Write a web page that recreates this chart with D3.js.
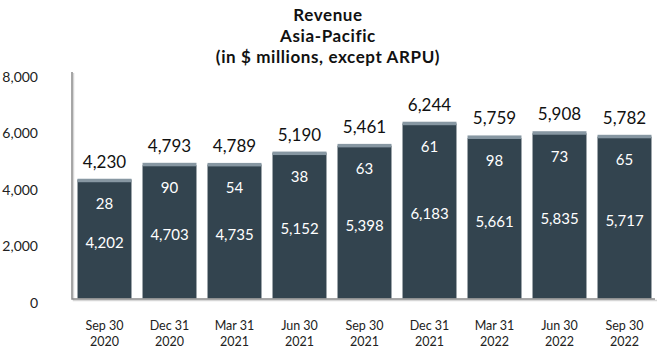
<!DOCTYPE html>
<html>
<head>
<meta charset="utf-8">
<script src="https://cdn.jsdelivr.net/npm/d3@7"></script>
<style>
  body { margin: 0; background: #fff; }
  text { font-family: Lato, "Open Sans", sans-serif; }
</style>
</head>
<body>
<div id="chart"></div>
<script>
const quarters = ['Sep 30|2020', 'Dec 31|2020', 'Mar 31|2021', 'Jun 30|2021', 'Sep 30|2021',
                  'Dec 31|2021', 'Mar 31|2022', 'Jun 30|2022', 'Sep 30|2022'];
const baseValues = [4202, 4703, 4735, 5152, 5398, 6183, 5661, 5835, 5717];
const otherValues = [28, 90, 54, 38, 63, 61, 98, 73, 65];
const totals = [4230, 4793, 4789, 5190, 5461, 6244, 5759, 5908, 5782];
const yTicks = [0, 2000, 4000, 6000, 8000];
const titleLines = ['Revenue', 'Asia-Pacific', '(in $ millions, except ARPU)'];

const width = 660, height = 352;
const margin = {top: 72, right: 3, bottom: 53.5, left: 72};

const data = quarters.map((q, i) => ({
    quarter: q, base: baseValues[i], other: otherValues[i], total: totals[i]
}));

const svg = d3.select('#chart')
    .append('svg')
        .attr('width', width)
        .attr('height', height);

const x = d3.scaleBand()
    .domain(quarters)
    .range([margin.left, width - margin.right])
    .paddingInner(0.17)
    .paddingOuter(0.085);

const y = d3.scaleLinear()
    .domain([0, 8000])
    .range([height - margin.bottom, margin.top]);

// title
svg.append('g')
    .selectAll('text')
    .data(titleLines)
    .join('text')
        .attr('x', 328)
        .attr('y', (d, i) => 21 + i * 21)
        .attr('text-anchor', 'middle')
        .attr('font-size', 17)
        .attr('letter-spacing', 0.6)
        .attr('font-weight', 'bold')
        .attr('fill', '#111')
        .text(d => d);

// y tick labels
svg.append('g')
    .selectAll('text')
    .data(yTicks)
    .join('text')
        .attr('x', 38)
        .attr('y', d => y(d) + 9.5)
        .attr('text-anchor', 'end')
        .attr('font-size', 14)
        .attr('fill', '#222')
        .text(d => d3.format(',')(d));

// bars
const bars = svg.append('g')
    .selectAll('g')
    .data(data)
    .join('g');

bars.append('rect')
    .attr('x', d => x(d.quarter))
    .attr('y', d => y(d.base))
    .attr('width', x.bandwidth())
    .attr('height', d => y(0) - y(d.base))
    .attr('fill', '#33444f');

bars.append('rect')
    .attr('x', d => x(d.quarter))
    .attr('y', d => y(d.total))
    .attr('width', x.bandwidth())
    .attr('height', d => Math.max(y(d.base) - y(d.total), 3.5))
    .attr('fill', '#8797a2');

// axis lines (with a soft shadow)
const axisG = svg.append('g');
axisG.append('path')
    .attr('d', `M${margin.left + 1.5},${margin.top + 1}V${y(0) + 2}H${width - 3}`)
    .attr('stroke', '#d6d6d6')
    .attr('stroke-width', 1.5)
    .attr('fill', 'none');
axisG.append('path')
    .attr('d', `M${margin.left},${margin.top}V${y(0) + 0.5}H${width - 5}`)
    .attr('stroke', '#8a8a8a')
    .attr('stroke-width', 1.5)
    .attr('fill', 'none');

// value labels
bars.append('text')
    .attr('x', d => x(d.quarter) + x.bandwidth() / 2)
    .attr('y', d => y(d.total) - 11)
    .attr('text-anchor', 'middle')
    .attr('font-size', 17)
    .attr('fill', '#111')
    .text(d => d3.format(',')(d.total));

bars.append('text')
    .attr('x', d => x(d.quarter) + x.bandwidth() / 2)
    .attr('y', d => y(d.total) + 30.5)
    .attr('text-anchor', 'middle')
    .attr('font-size', 15)
    .attr('fill', '#fff')
    .text(d => d.other);

bars.append('text')
    .attr('x', d => x(d.quarter) + x.bandwidth() / 2)
    .attr('y', d => (y(0) + y(d.base)) / 2 + 8.5)
    .attr('text-anchor', 'middle')
    .attr('font-size', 15)
    .attr('fill', '#fff')
    .text(d => d3.format(',')(d.base));

// x labels
const xl = svg.append('g')
    .selectAll('text')
    .data(quarters)
    .join('text')
        .attr('x', d => x(d) + x.bandwidth() / 2)
        .attr('y', 330)
        .attr('text-anchor', 'middle')
        .attr('font-size', 12.5)
        .attr('fill', '#222');

xl.append('tspan')
    .attr('x', d => x(d) + x.bandwidth() / 2)
    .text(d => d.split('|')[0]);
xl.append('tspan')
    .attr('x', d => x(d) + x.bandwidth() / 2)
    .attr('dy', 15.5)
    .text(d => d.split('|')[1]);
</script>
</body>
</html>
